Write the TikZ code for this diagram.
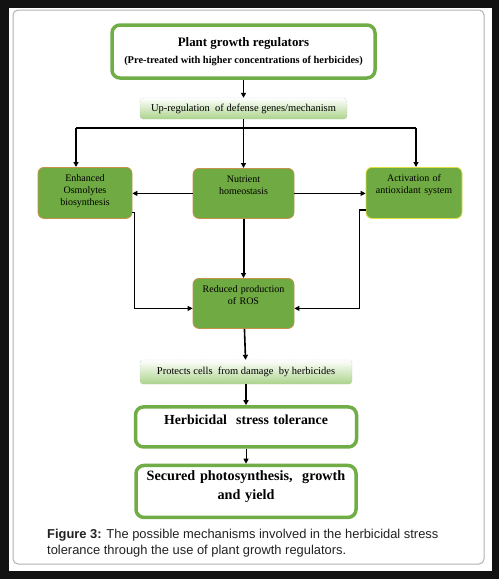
\documentclass[tikz,border=0pt]{standalone}
\usepackage{fontspec}
\setmainfont{Liberation Serif}
\newfontfamily\captionfont{Liberation Sans}
\usetikzlibrary{shapes}
\usetikzlibrary{arrows.meta}
\usetikzlibrary{positioning}
\definecolor{regreen}{RGB}{112,173,71}
\definecolor{boxgreen}{RGB}{112,170,66}
\definecolor{boxbrown}{RGB}{196,146,72}
\definecolor{boxyellow}{RGB}{222,222,64}
\definecolor{shadegreen}{RGB}{172,212,140}
\definecolor{captext}{RGB}{34,34,34}

\begin{document}
\begin{tikzpicture}[x=1pt,y=-1pt]
\tikzset{regbox/.style={rectangle,draw=regreen,line width=3.5pt,rounded corners=8pt,fill=white,align=center,inner sep=0pt,font=\bfseries},
shadebox/.style={rectangle,top color=white,bottom color=shadegreen,draw=black!35,densely dotted,rounded corners=3pt,inner sep=0pt,font=\fontsize{10.5}{12}\selectfont},
greenbox/.style={rectangle,fill=boxgreen,draw=boxbrown,line width=0.8pt,rounded corners=6pt,align=center,anchor=north,inner xsep=3pt,inner ysep=6pt,text height=8pt,font=\fontsize{10}{12}\selectfont},
arr/.style={line width=1.6pt,-{Triangle[length=5pt,width=5pt]}}}
\useasboundingbox (0,0) rectangle (499,579);
\fill[black!93] (0,0) rectangle (499,579);
\fill[white] (9,8) rectangle (492,571);
\draw[black!30,line width=1pt,rounded corners=5pt] (13,10) rectangle (484,564);
\node[regbox,minimum width=263pt,minimum height=53pt](reg) at (243.5,51.5){{\fontsize{12.9}{16}\selectfont Plant growth regulators}\\[5pt]{\fontsize{10.4}{12}\selectfont (Pre-treated with higher concentrations of herbicides)}};
\node[shadebox,minimum width=207pt,minimum height=21pt](up) at (243.5,108.5){Up-regulation\ \ of defense genes/mechanism};
\coordinate (hl) at (76,128);
\coordinate (hr) at (416,128);
\node[greenbox,text width=88pt,text depth=31pt](enh) at (85,167){Enhanced\\Osmolytes\\biosynthesis};
\node[greenbox,text width=95pt,text depth=30pt](nut) at (243.5,168){Nutrient\\homeostasis};
\node[greenbox,draw=boxyellow,text width=90pt,text depth=31pt](act) at (414,167){Activation of\\antioxidant system};
\node[greenbox,text width=95pt,text depth=30pt](ros) at (243.5,278){Reduced production\\of ROS};
\node[shadebox,minimum width=212pt,minimum height=24pt](prot) at (246,372){Protects cells\ \ from damage\ \ by herbicides};
\node[regbox,anchor=north,text width=221pt,inner ysep=6pt,text height=12pt,text depth=16pt,font=\fontsize{13.8}{15}\selectfont\bfseries](tol)[below=21pt of prot]{Herbicidal\ \ stress tolerance};
\node[regbox,anchor=north,text width=220pt,inner ysep=5pt,text height=10pt,text depth=32pt,font=\fontsize{14.2}{19}\selectfont\bfseries](sec)[below=15pt of tol]{Secured photosynthesis,\ \ growth\\and yield};
\draw[arr,line width=1.3pt](reg) -- (up);
\draw[line width=1.6pt](up) -- (up |- hl);
\draw[line width=1.6pt](hl) -- (hr);
\draw[arr](hl) -- (hl |- enh.north);
\draw[arr](up |- hl) -- (nut);
\draw[arr](hr) -- (hr |- act.north);
\draw[arr](nut.west) -- (nut.west -| enh.east);
\draw[arr](nut.east) -- (nut.east -| act.west);
\draw[arr,line width=2pt](nut) -- (ros);
\draw[arr,line width=0.8pt]([yshift=6pt]enh.south east) -- ++(2,0) |- ([yshift=-5pt]ros.west);
\draw[arr]([yshift=9pt]act.south west) -- ++(-6,0) |- ([yshift=-5pt]ros.east);
\draw[arr](ros) -- (prot);
\draw[arr](prot) -- (tol);
\draw[arr,line width=1pt](tol) -- (sec);
\node[anchor=north west,align=left,inner sep=0pt,text=captext,font=\captionfont\fontsize{12.9}{16}\selectfont](cap) at (47,529){\textbf{Figure 3:} The possible mechanisms involved in the herbicidal stress\\tolerance through the use of plant growth regulators.};
\end{tikzpicture}
\end{document}
